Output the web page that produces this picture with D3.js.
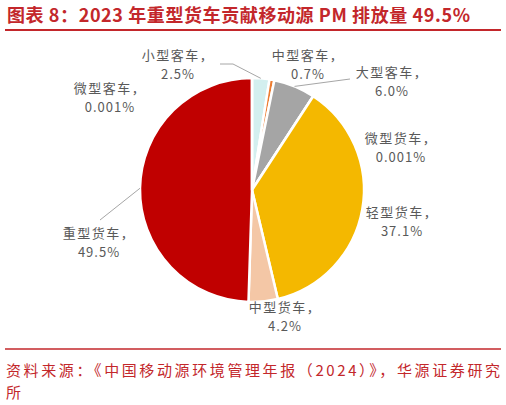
<!DOCTYPE html>
<html>
<head>
<meta charset="utf-8">
<script src="https://cdn.jsdelivr.net/npm/d3@7"></script>
<style>
  body { margin: 0; background: #fff; }
  text { font-family: "Noto Sans CJK SC", "DejaVu Sans", sans-serif; }
</style>
</head>
<body>
<script>
var width = 506, height = 405

// data
var categories = ["小型客车", "中型客车", "大型客车", "微型货车", "轻型货车", "中型货车", "重型货车", "微型客车"]
var values = [2.5, 0.7, 6.0, 0.001, 37.1, 4.2, 49.5, 0.001]
var valueLabels = ["2.5%", "0.7%", "6.0%", "0.001%", "37.1%", "4.2%", "49.5%", "0.001%"]
var colors = ["#d3efef", "#ed7d31", "#a5a5a5", "#f4b800", "#f4b800", "#f4c7a6", "#c00000", "#c00000"]

// label centres (layout)
var labelPos = [[178, 55], [308, 55], [392, 72], [401, 138], [402, 212], [285, 307], [99, 233], [110, 88]]
// which labels get a leader line, and where it ends
var leaders = {0: [[233, 64], [220, 64]], 2: [[350, 79]], 6: [[100, 220]]}

var cx = 252, cy = 190, radius = 112

var svg = d3.select("body")
    .append("svg")
    .attr("width", width)
    .attr("height", height)

// title
svg.append("text")
    .attr("x", 7)
    .attr("y", 22)
    .attr("textLength", 463)
    .attr("lengthAdjust", "spacing")
    .style("font-size", "18px")
    .style("font-weight", "bold")
    .style("fill", "#c3272b")
    .text("图表 8：2023 年重型货车贡献移动源 PM 排放量 49.5%")

svg.append("line")
    .attr("x1", 5).attr("x2", 501)
    .attr("y1", 30).attr("y2", 30)
    .style("stroke", "#c3272b")
    .style("stroke-width", 2)

// pie
var pie = d3.pie()
    .sort(null)
    .value(function(d) { return d })

var arc = d3.arc()
    .outerRadius(radius)
    .innerRadius(0)

var pointArc = d3.arc()
    .outerRadius(radius)
    .innerRadius(radius)

var arcs = pie(values)

var g = svg.append("g")
    .attr("transform", "translate(" + cx + "," + cy + ")")

g.selectAll(".arc")
    .data(arcs)
    .enter().append("path")
    .attr("class", "arc")
    .attr("d", arc)
    .style("fill", function(d, i) { return colors[i] })
    .style("stroke", "#fff")
    .style("stroke-width", 2.5)
    .style("stroke-linejoin", "round")

// leader lines
Object.keys(leaders).forEach(function(k) {
  var a = arcs[k]
  var mid = (a.startAngle + a.endAngle) / 2
  var start = [cx + radius * Math.sin(mid), cy - radius * Math.cos(mid)]
  var pts = [start].concat(leaders[k])
  svg.append("path")
      .attr("d", d3.line()(pts))
      .style("fill", "none")
      .style("stroke", "#a6a6a6")
      .style("stroke-width", 1)
})

// labels
var labels = svg.selectAll(".label")
    .data(categories)
    .enter().append("text")
    .attr("class", "label")
    .attr("text-anchor", "middle")
    .style("font-size", "13px")
    .style("fill", "#595959")
    .style("letter-spacing", "1.5px")

labels.append("tspan")
    .attr("x", function(d, i) { return labelPos[i][0] })
    .attr("y", function(d, i) { return labelPos[i][1] + 5 })
    .text(function(d) { return d + "，" })

labels.append("tspan")
    .attr("x", function(d, i) { return labelPos[i][0] })
    .attr("y", function(d, i) { return labelPos[i][1] + 24 })
    .style("letter-spacing", "1px")
    .text(function(d, i) { return valueLabels[i] })

// source
svg.append("line")
    .attr("x1", 5).attr("x2", 501)
    .attr("y1", 349).attr("y2", 349)
    .style("stroke", "#c3272b")
    .style("stroke-width", 1.5)

svg.append("text")
    .attr("x", 6)
    .attr("y", 376)
    .attr("textLength", 494)
    .attr("lengthAdjust", "spacing")
    .style("font-size", "15px")
    .style("fill", "#c3272b")
    .text("资料来源：《中国移动源环境管理年报（2024）》，华源证券研究")

svg.append("text")
    .attr("x", 6)
    .attr("y", 398)
    .style("font-size", "15px")
    .style("fill", "#c3272b")
    .text("所")
</script>
</body>
</html>
